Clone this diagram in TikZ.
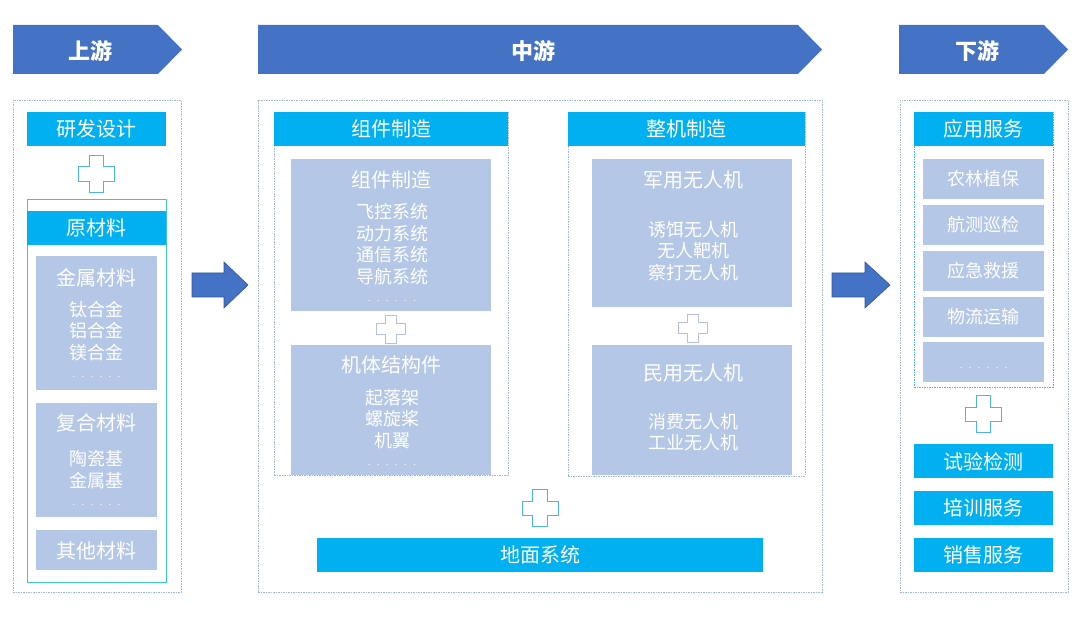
\documentclass[tikz,border=0pt]{standalone}
\usepackage{fontspec}
\setmainfont{Noto Sans CJK SC}
\definecolor{hdrblue}{HTML}{4472C4}
\definecolor{arrowedge}{HTML}{2F5597}
\definecolor{barcyan}{HTML}{00B0F0}
\definecolor{grayblue}{HTML}{B4C7E7}
\definecolor{dashcol}{HTML}{A3B6DE}
\definecolor{rawedge}{HTML}{3CC3D6}
\definecolor{appedge}{HTML}{4DB6D6}
\definecolor{pluscyan}{HTML}{4AB6E6}
\definecolor{plusgray}{HTML}{B6C0E2}
\newcommand{\sixdots}{.\hspace{6.5pt}.\hspace{6.5pt}.\hspace{6.5pt}.\hspace{6.5pt}.\hspace{6.5pt}.}

\begin{document}
\begin{tikzpicture}[x=1pt, y=-1pt]

    \useasboundingbox (0,0) rectangle (1080,617);

    \tikzset{
        hdr/.style={fill=hdrblue},
        hdrtext/.style={text=white, font=\fontsize{22}{26}\selectfont\bfseries},
        secbox/.style={draw=dashcol, line width=0.6pt, dash pattern=on 1.5pt off 1pt, inner sep=0pt},
        subbox/.style={draw=#1, line width=0.6pt, dash pattern=on 1.5pt off 1pt, inner sep=0pt},
        bar/.style={fill=barcyan, text=white, inner sep=0pt, font=\fontsize{20}{24}\selectfont},
        grey/.style={fill=grayblue, inner sep=0pt},
        title/.style={text=white, font=\fontsize{20}{24}\selectfont},
        list/.style={text=white, align=center, font=\fontsize{18}{21.5}\selectfont},
        dots/.style={text=white, font=\fontsize{9}{10}\selectfont},
        bigarrow/.style={fill=hdrblue, draw=arrowedge, line width=0.6pt},
        cross/.pic={
            \path[pic actions] (-1,-.4) -- (-.4,-.4) -- (-.4,-1) -- (.4,-1) -- (.4,-.4) -- (1,-.4)
                -- (1,.4) -- (.4,.4) -- (.4,1) -- (-.4,1) -- (-.4,.4) -- (-1,.4) -- cycle;
        },
        bigcross/.style={fill=white, draw=pluscyan, line width=1pt, xscale=18, yscale=18.5},
        smallcross/.style={fill=white, draw=plusgray, line width=0.8pt, xscale=14.5, yscale=14}
    }

    % Headers
    \fill[hdr] (13,25) -- (158,25) -- (182,49.5) -- (158,74) -- (13,74) -- cycle;
    \node[hdrtext] (up) at (90,51) {上游};
    \fill[hdr] (258,25) -- (798,25) -- (822,49.5) -- (798,74) -- (258,74) -- cycle;
    \node[hdrtext] (mid) at (533,51) {中游};
    \fill[hdr] (899,25) -- (1044,25) -- (1068,49.5) -- (1044,74) -- (899,74) -- cycle;
    \node[hdrtext] (down) at (977,51) {下游};

    % Upstream
    \node[secbox, minimum width=168pt, minimum height=492pt] (upbox) at (97,346) {};
    \node[bar, minimum width=139pt, minimum height=34pt] (rd) at (96.5,129) {研发设计};
    \pic[bigcross] at (96.5,174) {cross};
    \node[draw=rawedge, line width=1pt, inner sep=0pt, minimum width=139pt, minimum height=383pt] (rawbox) at (96.5,391.5) {};
    \node[bar, minimum width=139pt, minimum height=34pt] (raw) at (96.5,228) {原材料};
    \node[grey, minimum width=121pt, minimum height=134pt] (metal) at (96.5,323) {};
    \node[title] (metalt) at (96.5,278) {金属材料};
    \node[list] (metall) at (96.5,331) {钛合金\\铝合金\\镁合金};
    \node[dots] (metald) at (96.5,377) {\sixdots};
    \node[grey, minimum width=121pt, minimum height=114pt] (comp) at (96.5,460) {};
    \node[title] (compt) at (96.5,423) {复合材料};
    \node[list] (compl) at (96.5,469.5) {陶瓷基\\金属基};
    \node[dots] (compd) at (96.5,505) {\sixdots};
    \node[grey, minimum width=121pt, minimum height=40pt] (other) at (96.5,550) {};
    \node[title] (othert) at (96.5,551) {其他材料};

    % Midstream
    \node[secbox, minimum width=564pt, minimum height=492pt] (midbox) at (540,346) {};
    \node[subbox=dashcol, minimum width=234pt, minimum height=363pt] (partbox) at (391,293.5) {};
    \node[bar, minimum width=234pt, minimum height=34pt] (part) at (391,129) {组件制造};
    \node[grey, minimum width=200pt, minimum height=152pt] (sys) at (391,235) {};
    \node[title] (syst) at (391,180) {组件制造};
    \node[list] (sysl) at (392,244) {飞控系统\\动力系统\\通信系统\\导航系统};
    \node[dots] (sysd) at (392,301) {\sixdots};
    \pic[smallcross] at (391,329) {cross};
    \node[grey, minimum width=200pt, minimum height=130pt] (frame) at (391,410) {};
    \node[title] (framet) at (391,365) {机体结构件};
    \node[list] (framel) at (392,419) {起落架\\螺旋桨\\机翼};
    \node[dots] (framed) at (392,465) {\sixdots};

    \node[subbox=dashcol, minimum width=237pt, minimum height=364pt] (wholebox) at (686.5,294) {};
    \node[bar, minimum width=237pt, minimum height=34pt] (whole) at (686.5,129) {整机制造};
    \node[grey, minimum width=200pt, minimum height=148pt] (mil) at (692,233) {};
    \node[title] (milt) at (693,180) {军用无人机};
    \node[list] (mill) at (693,251) {诱饵无人机\\无人靶机\\察打无人机};
    \pic[smallcross] at (693,328) {cross};
    \node[grey, minimum width=200pt, minimum height=130pt] (civ) at (692,410) {};
    \node[title] (civt) at (693,373) {民用无人机};
    \node[list] (civl) at (693,432) {消费无人机\\工业无人机};

    \pic[bigcross] at (540,508.5) {cross};
    \node[bar, minimum width=446pt, minimum height=34pt] (ground) at (540,555) {地面系统};

    % Downstream
    \node[secbox, minimum width=168pt, minimum height=492pt] (downbox) at (984,346) {};
    \node[subbox=appedge, minimum width=139pt, minimum height=275pt] (appbox) at (983.5,249.5) {};
    \node[bar, minimum width=139pt, minimum height=34pt] (app) at (983.5,129) {应用服务};
    \foreach \txt [count=\i] in {农林植保, 航测巡检, 应急救援, 物流运输} {
        \node[grey, minimum width=121pt, minimum height=40pt, text=white,
              font=\fontsize{18}{22}\selectfont] (app\i) at (983.5,133+46*\i) {\txt};
    }
    \node[grey, minimum width=121pt, minimum height=40pt] (app5) at (983.5,362.5) {};
    \node[dots] (appd) at (983.5,368) {\sixdots};
    \pic[bigcross] at (983.5,414.5) {cross};
    \node[bar, minimum width=139pt, minimum height=34pt] (test) at (983.5,461.5) {试验检测};
    \node[bar, minimum width=139pt, minimum height=34pt] (train) at (983.5,508) {培训服务};
    \node[bar, minimum width=139pt, minimum height=34pt] (sale) at (983.5,555) {销售服务};

    % Block arrows
    \draw[bigarrow] (192,273) -- (224,273) -- (224,262) -- (248,285) -- (224,308) -- (224,297) -- (192,297) -- cycle;
    \draw[bigarrow] (832,273) -- (865,273) -- (865,262) -- (890,285) -- (865,308) -- (865,297) -- (832,297) -- cycle;

\end{tikzpicture}
\end{document}
